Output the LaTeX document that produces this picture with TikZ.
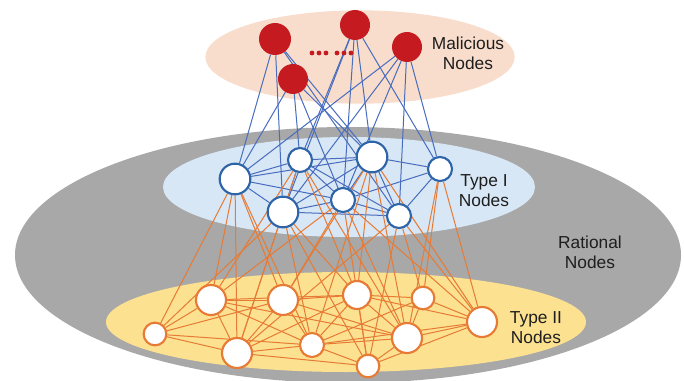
\documentclass[tikz,border=0pt]{standalone}
\usepackage{fontspec}
\setmainfont{Liberation Sans}
\usetikzlibrary{backgrounds}
\definecolor{peach}{RGB}{249,221,204}
\definecolor{grayell}{RGB}{168,168,168}
\definecolor{lblue}{RGB}{216,231,246}
\definecolor{yell}{RGB}{252,225,145}
\definecolor{mred}{RGB}{196,26,32}
\definecolor{bline}{RGB}{72,108,190}
\definecolor{bnode}{RGB}{46,100,168}
\definecolor{oline}{RGB}{231,122,52}
\definecolor{txt}{RGB}{30,30,30}
\begin{document}
\begin{tikzpicture}[x=0.75pt,y=-0.75pt,
  malnode/.style={circle,fill=mred,inner sep=0pt},
  tonenode/.style={circle,draw=bnode,fill=white,line width=1.6pt,inner sep=0pt},
  ttwonode/.style={circle,draw=oline,fill=white,line width=1.6pt,inner sep=0pt},
  bedge/.style={draw=bline,line width=0.75pt},
  oedge/.style={draw=oline,line width=0.75pt},
  lbl/.style={align=center,text=txt,font=\fontsize{13}{15}\selectfont,inner sep=0pt},
  dotmark/.style={circle,fill=mred,inner sep=0pt,minimum size=3.6pt}]
\useasboundingbox (0,0) rectangle (684,381);
% malicious nodes
\node[malnode,minimum size=24pt] (m1) at (275,39) {};
\node[malnode,minimum size=22.5pt] (m2) at (355,25) {};
\node[malnode,minimum size=22.5pt] (m3) at (407,47) {};
\node[malnode,minimum size=22.5pt] (m4) at (293,79) {};
\node[dotmark] (d1) at (312,53) {};
\node[dotmark] (d2) at (319,53) {};
\node[dotmark] (d3) at (326,53) {};
\node[dotmark] (d4) at (337,53) {};
\node[dotmark] (d5) at (344,53) {};
\node[dotmark] (d6) at (351,53) {};
% type I nodes
\node[tonenode,minimum size=23pt] (a) at (235,179) {};
\node[tonenode,minimum size=18pt] (b) at (300,160) {};
\node[tonenode,minimum size=23pt] (c) at (372,157) {};
\node[tonenode,minimum size=18pt] (d) at (440,169) {};
\node[tonenode,minimum size=23pt] (e) at (283,212) {};
\node[tonenode,minimum size=18pt] (f) at (343,200) {};
\node[tonenode,minimum size=18pt] (g) at (399,216) {};
% type II nodes
\node[ttwonode,minimum size=22.5pt] (p) at (211,300) {};
\node[ttwonode,minimum size=22.5pt] (q) at (283,300) {};
\node[ttwonode,minimum size=21pt] (r) at (357,295) {};
\node[ttwonode,minimum size=17pt] (s) at (423,298) {};
\node[ttwonode,minimum size=22.5pt] (t) at (482,322) {};
\node[ttwonode,minimum size=17pt] (u) at (155,334) {};
\node[ttwonode,minimum size=22.5pt] (v) at (237,353) {};
\node[ttwonode,minimum size=18pt] (w) at (312,345) {};
\node[ttwonode,minimum size=22.5pt] (x) at (407,338) {};
\node[ttwonode,minimum size=17pt] (y) at (368,366) {};
% labels
\node[lbl] (lm) at (468,53) {Malicious\\Nodes};
\node[lbl] (l1) at (484,191) {Type I\\Nodes};
\node[lbl] (lr) at (590,252) {Rational\\Nodes};
\node[lbl] (l2) at (536,328) {Type II\\Nodes};
\begin{scope}[on background layer]
% background ellipses
\fill[white] (0,0) rectangle (684,381);
\fill[peach] (360,57) ellipse [x radius=116pt, y radius=35pt];
\fill[grayell] (348,255) ellipse [x radius=249.75pt, y radius=96pt];
\fill[lblue] (349,187) ellipse [x radius=139.5pt, y radius=37.5pt];
\fill[yell] (346,322) ellipse [x radius=180pt, y radius=37.5pt];
% malicious to type I
\foreach \s/\t in {m1/a,m1/e,m1/c,m1/g,
                   m4/a,m4/b,m4/c,m4/f,
                   m2/b,m2/e,m2/f,m2/c,m2/d,
                   m3/a,m3/e,m3/f,m3/g,m3/d}
  \draw[bedge] (\s) -- (\t);
% within type I
\foreach \s/\t in {a/b,a/e,a/c,a/f,b/c,b/e,b/f,b/g,c/d,c/f,c/g,c/e,
                   d/f,d/g,e/f,e/g,f/g}
  \draw[bedge] (\s) -- (\t);
% type I to type II
\foreach \s/\t in {a/u,a/p,a/v,a/w,a/q,
                   b/p,b/v,b/r,b/x,
                   e/u,e/v,e/w,e/r,e/y,
                   f/p,f/q,f/x,f/y,f/t,
                   c/q,c/r,c/w,c/x,c/t,
                   g/v,g/s,g/t,g/y,
                   d/s,d/t,d/x}
  \draw[oedge] (\s) -- (\t);
% within type II
\foreach \s/\t in {u/p,u/v,u/q,u/w,p/q,p/v,p/w,p/x,p/r,
                   q/v,q/r,q/w,q/x,r/s,r/w,r/x,r/t,
                   s/t,s/x,s/w,v/w,v/y,v/r,w/x,w/y,w/t,
                   x/y,x/t,y/t,y/r}
  \draw[oedge] (\s) -- (\t);
\end{scope}
\end{tikzpicture}
\end{document}
